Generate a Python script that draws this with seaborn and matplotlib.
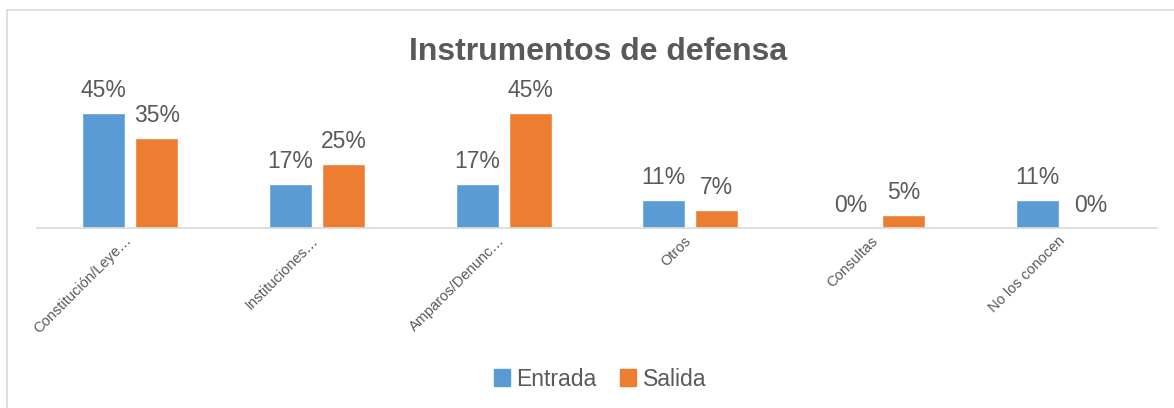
import matplotlib.pyplot as plt
import matplotlib.transforms as mtransforms
import seaborn as sns
import pandas as pd
from matplotlib.patches import Patch, Rectangle

sns.set_style('white')
plt.rcParams['font.family'] = ['Liberation Sans', 'DejaVu Sans']

categorias = ['Constitución/Leye…', 'Instituciones…', 'Amparos/Denunc…',
              'Otros', 'Consultas', 'No los conocen']
entrada = [45, 17, 17, 11, 0, 11]
salida = [35, 25, 45, 7, 5, 0]
series = ['Entrada', 'Salida']
colores = ['#5B9BD5', '#ED7D31']

gris = '#595959'

df = pd.DataFrame({
    'categoria': categorias * 2,
    'valor': entrada + salida,
    'serie': [series[0]] * len(entrada) + [series[1]] * len(salida),
})

fig = plt.figure(figsize=(11.74, 4.08), dpi=100)
ax = fig.add_axes([37 / 1174, 180 / 408, 1120 / 1174, 128 / 408])

sns.barplot(data=df, x='categoria', y='valor', hue='serie', palette=colores,
            saturation=1, width=0.57, gap=0.19, legend=False, ax=ax)

for cont in ax.containers:
    ax.bar_label(cont, labels=[f'{b.get_height():.0f}%' for b in cont],
                 padding=8, fontsize=16.5, color=gris)

ax.set_ylim(0, 50)
ax.set_xlim(-0.5, len(categorias) - 0.5)
ax.set_xlabel('')
ax.set_ylabel('')
ax.set_yticks([])
for s in ['top', 'right', 'left']:
    ax.spines[s].set_visible(False)
ax.spines['bottom'].set_color('#D9D9D9')
ax.spines['bottom'].set_linewidth(1.2)
ax.tick_params(axis='x', length=0, pad=4)
desplaza = mtransforms.ScaledTranslation(-6 / 100, 0, fig.dpi_scale_trans)
for lab in ax.get_xticklabels():
    lab.set_rotation(45)
    lab.set_ha('right')
    lab.set_rotation_mode('anchor')
    lab.set_fontsize(10.5)
    lab.set_color(gris)
    lab.set_transform(lab.get_transform() + desplaza)

fig.text(0.509, 0.8725, 'Instrumentos de defensa', ha='center', va='center',
         fontsize=23, fontweight='bold', color=gris)

handles = [Patch(color=c) for c in colores]
fig.legend(handles, series, loc='center', bbox_to_anchor=(0.511, 0.071), ncol=2,
           frameon=False, fontsize=16.5, handlelength=0.7, handleheight=0.7,
           handletextpad=0.3, columnspacing=1.0, labelcolor=gris)

# marco del gráfico
fig.patches.append(Rectangle((7 / 1174, -0.05), 1.1, (408 - 10) / 408 + 0.05,
                             transform=fig.transFigure, fill=False,
                             edgecolor='#D9D9D9', linewidth=1.2))

fig.savefig('out.png', dpi=100)
